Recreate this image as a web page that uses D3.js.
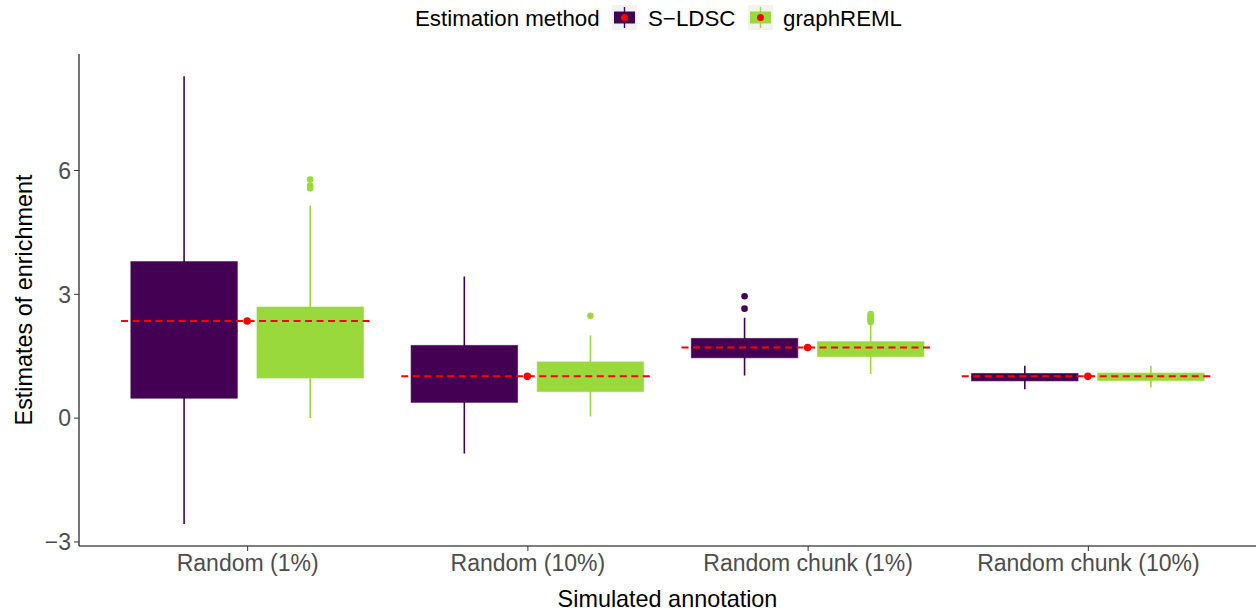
<!DOCTYPE html>
<meta charset="utf-8">
<script src="https://d3js.org/d3.v7.min.js"></script>
<style>
  body { margin: 0; background: #fff; }
  text { font-family: "Liberation Sans", Arial, sans-serif; }
</style>
<div id="my_dataviz"></div>
<script>

    // categories and methods
    const categories = ["Random (1%)", "Random (10%)", "Random chunk (1%)", "Random chunk (10%)"];
    const methods = ["S\u2212LDSC", "graphREML"];

    // box stats per category: [lower whisker, q1, median, q3, upper whisker]
    const sldscBox = [
        [-2.58, 0.47, 2.10, 3.78, 8.27],
        [-0.87, 0.37, 1.00, 1.75, 3.42],
        [1.02, 1.45, 1.70, 1.92, 2.42],
        [0.69, 0.89, 0.99, 1.07, 1.26]
    ];
    const graphremlBox = [
        [-0.01, 0.96, 1.80, 2.68, 5.14],
        [0.03, 0.63, 0.95, 1.35, 1.99],
        [1.06, 1.48, 1.68, 1.84, 2.28],
        [0.73, 0.90, 0.99, 1.08, 1.26]
    ];

    // outlying estimates
    const sldscOutliers = [[], [], [2.94, 2.64], []];
    const graphremlOutliers = [[5.77, 5.62, 5.56], [2.47], [2.51, 2.46, 2.41, 2.36, 2.32], []];

    // true simulated enrichment
    const trueValues = [2.34, 1.0, 1.70, 1.0];

    const yTicks = [-3, 0, 3, 6];
    const colors = ["#440154", "#9AD93C"];

    const W = 1257, H = 613;
    const panel = { left: 79, right: 1256, top: 54, bottom: 546 };

    const svg = d3.select("#my_dataviz")
        .append("svg")
        .attr("width", W)
        .attr("height", H);

    // discrete x positions: index scale with ggplot style expansion
    const x = d3.scaleLinear()
        .domain([-0.6, categories.length - 0.4])
        .range([panel.left, panel.right]);

    const y = d3.scaleLinear()
        .domain([-3.11, 8.81])
        .range([panel.bottom, panel.top]);

    const dodge = 0.225, boxW = 0.38, refHalf = 0.45;

    const boxes = [];
    categories.forEach(function (c, i) {
        [sldscBox, graphremlBox].forEach(function (arr, m) {
            const s = arr[i];
            boxes.push({
                cat: i, method: m,
                lo: s[0], q1: s[1], med: s[2], q3: s[3], hi: s[4],
                out: (m === 0 ? sldscOutliers : graphremlOutliers)[i]
            });
        });
    });

    const g = svg.append("g");

    const bx = g.selectAll(".box")
        .data(boxes)
        .enter()
        .append("g")
        .attr("class", "box");

    // whiskers
    bx.append("line")
        .attr("x1", d => x(d.cat + (d.method === 0 ? -dodge : dodge)))
        .attr("x2", d => x(d.cat + (d.method === 0 ? -dodge : dodge)))
        .attr("y1", d => y(d.hi))
        .attr("y2", d => y(d.lo))
        .attr("stroke", d => colors[d.method])
        .attr("stroke-width", 1.6);

    // boxes
    bx.append("rect")
        .attr("x", d => x(d.cat + (d.method === 0 ? -dodge : dodge) - boxW / 2))
        .attr("width", d => x(boxW) - x(0))
        .attr("y", d => y(d.q3))
        .attr("height", d => y(d.q1) - y(d.q3))
        .attr("fill", d => colors[d.method])
        .attr("stroke", d => colors[d.method])
        .attr("stroke-opacity", 0.6)
        .attr("stroke-width", 1);

    // median (same colour as fill)
    bx.append("line")
        .attr("x1", d => x(d.cat + (d.method === 0 ? -dodge : dodge) - boxW / 2))
        .attr("x2", d => x(d.cat + (d.method === 0 ? -dodge : dodge) + boxW / 2))
        .attr("y1", d => y(d.med))
        .attr("y2", d => y(d.med))
        .attr("stroke", d => colors[d.method])
        .attr("stroke-width", 2);

    // outliers
    bx.selectAll(".out")
        .data(d => d.out.map(v => ({ v: v, cat: d.cat, method: d.method })))
        .enter()
        .append("circle")
        .attr("cx", d => x(d.cat + (d.method === 0 ? -dodge : dodge)))
        .attr("cy", d => y(d.v))
        .attr("r", 3.3)
        .attr("fill", d => colors[d.method]);

    // true value reference lines
    g.selectAll(".ref")
        .data(trueValues)
        .enter()
        .append("line")
        .attr("x1", (d, i) => x(i - refHalf))
        .attr("x2", (d, i) => x(i + refHalf))
        .attr("y1", d => y(d))
        .attr("y2", d => y(d))
        .attr("stroke", "#FF0000")
        .attr("stroke-width", 2)
        .attr("stroke-dasharray", "7,4.5");

    g.selectAll(".refdot")
        .data(trueValues)
        .enter()
        .append("circle")
        .attr("cx", (d, i) => x(i))
        .attr("cy", d => y(d))
        .attr("r", 3.8)
        .attr("fill", "#FF0000");

    // Y axis
    const yAxis = svg.append("g")
        .attr("transform", `translate(${panel.left},0)`)
        .call(d3.axisLeft(y).tickValues(yTicks).tickSize(5).tickPadding(3)
            .tickFormat(d => d < 0 ? "\u2212" + Math.abs(d) : d));
    yAxis.select(".domain").attr("d", `M0,${panel.top}V${panel.bottom}`).attr("stroke", "#000").attr("stroke-width", 1.1);
    yAxis.selectAll(".tick line").attr("stroke", "#333");
    yAxis.selectAll(".tick text").attr("fill", "#4D4D4D").style("font-size", "23px").attr("dy", "0.36em");

    // X axis
    const xAxis = svg.append("g")
        .attr("transform", `translate(0,${panel.bottom})`)
        .call(d3.axisBottom(x).tickValues(d3.range(categories.length)).tickSize(5).tickPadding(3)
            .tickFormat(i => categories[i]));
    xAxis.select(".domain").attr("d", `M${panel.left},0H${panel.right}`).attr("stroke", "#000").attr("stroke-width", 1.1);
    xAxis.selectAll(".tick line").attr("stroke", "#333");
    xAxis.selectAll(".tick text").attr("fill", "#4D4D4D").style("font-size", "23px").attr("dy", "0.74em");

    // axis titles
    svg.append("text")
        .attr("x", (panel.left + panel.right) / 2)
        .attr("y", 607)
        .attr("text-anchor", "middle")
        .style("font-size", "23.4px")
        .attr("fill", "#000")
        .text("Simulated annotation");

    svg.append("text")
        .attr("transform", `translate(32,${(panel.top + panel.bottom) / 2}) rotate(-90)`)
        .attr("text-anchor", "middle")
        .style("font-size", "23.4px")
        .attr("fill", "#000")
        .text("Estimates of enrichment");

    // legend
    const legend = svg.append("g");
    legend.append("text")
        .attr("x", 415)
        .attr("y", 26)
        .style("font-size", "22.3px")
        .text("Estimation method");

    const keyX = [612, 748];
    const labX = [648, 783];
    methods.forEach(function (m, i) {
        const k = legend.append("g").attr("transform", `translate(${keyX[i]},5)`);
        k.append("rect").attr("width", 25).attr("height", 25).attr("fill", "#F2F2F2");
        k.append("line").attr("x1", 12.5).attr("x2", 12.5).attr("y1", 2).attr("y2", 23)
            .attr("stroke", colors[i]).attr("stroke-width", 1.4);
        k.append("rect").attr("x", 2).attr("y", 6.5).attr("width", 21).attr("height", 12)
            .attr("fill", colors[i]);
        k.append("circle").attr("cx", 12.5).attr("cy", 12.5).attr("r", 3.5).attr("fill", "#FF0000");
        legend.append("text")
            .attr("x", labX[i])
            .attr("y", 26)
            .style("font-size", "22.3px")
            .text(m);
    });

</script>
